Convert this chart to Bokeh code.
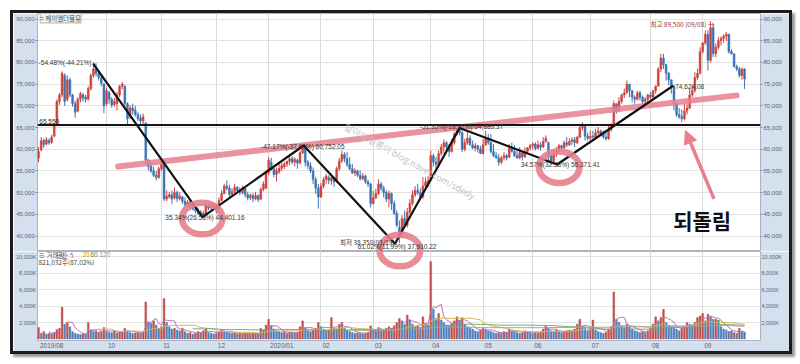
import numpy as np
import pandas as pd
from bokeh.plotting import figure
from bokeh.layouts import column
from bokeh.models import (Range1d, FixedTicker, NumeralTickFormatter, Span, Label,
                          Arrow, NormalHead, LinearAxis)
from bokeh.embed import file_html
from bokeh.resources import INLINE

# ---------------- data (prices in thousand won, volume in thousand shares) ----------------
month_idx = [0, 26, 47, 68, 88, 108, 128, 150, 170, 189, 211, 234, 254]
month_lbl = ["2019/08", "10", "11", "12", "2020/01", "02", "03", "04", "05", "06", "07", "08", "09"]

open_k = [
    58.0, 59.8, 62.0, 61.2, 62.0, 61.6, 63.0, 65.5, 71.0, 72.5,
    77.0, 71.5, 76.0, 72.5, 70.5, 68.8, 71.5, 72.5, 72.0, 71.5,
    74.0, 77.0, 78.5, 77.5, 76.5, 75.0, 70.5, 73.0, 71.5, 70.3,
    70.5, 72.5, 74.5, 74.5, 70.5, 67.5, 69.5, 69.0, 68.0, 67.2,
    66.5, 66.0, 57.5, 56.0, 55.0, 54.0, 53.5, 55.5, 56.5, 48.5,
    49.0, 49.5, 48.8, 50.0, 48.6, 49.0, 48.0, 47.3, 47.8, 46.8,
    46.2, 45.8, 45.2, 45.3, 44.9, 47.0, 46.5, 47.2, 46.7, 46.2,
    48.2, 49.8, 51.5, 51.0, 49.6, 50.3, 51.2, 50.5, 50.0, 51.0,
    49.5, 48.8, 49.3, 48.6, 49.3, 48.5, 50.8, 51.0, 54.5, 57.0,
    55.5, 54.2, 54.8, 55.6, 56.0, 56.6, 57.2, 57.8, 57.0, 57.5,
    56.8, 59.2, 60.0, 57.0, 56.2, 55.0, 53.0, 51.0, 49.0, 51.5,
    53.0, 53.5, 52.8, 53.3, 52.5, 55.5, 57.3, 58.8, 57.8, 56.5,
    55.5, 54.5, 55.0, 54.0, 53.2, 53.8, 52.5, 52.0, 47.5, 48.8,
    49.8, 52.0, 51.0, 50.0, 48.5, 49.8, 47.5, 45.2, 42.0, 40.5,
    44.0, 42.5, 45.5, 47.5, 49.5, 50.5, 50.0, 49.0, 51.5, 51.8,
    53.0, 58.5, 57.0, 56.5, 59.0, 60.5, 61.5, 60.5, 59.5, 61.5,
    63.5, 64.5, 63.8, 60.0, 61.5, 62.5, 61.0, 60.3, 60.8, 60.0,
    59.0, 61.0, 62.5, 61.5, 59.5, 58.5, 58.0, 57.0, 58.0, 58.5,
    58.2, 60.2, 59.5, 58.5, 58.0, 59.2, 58.2, 59.5, 60.3, 60.8,
    61.2, 60.2, 61.0, 60.5, 61.8, 61.5, 58.5, 57.2, 59.0, 59.5,
    60.8, 60.3, 61.5, 61.0, 61.8, 62.2, 61.5, 62.8, 65.0, 65.3,
    63.0, 62.5, 63.0, 62.8, 63.8, 64.2, 63.5, 62.8, 62.4, 64.5,
    65.8, 70.5, 69.0, 71.0, 72.5, 73.0, 75.0, 73.5, 72.0, 71.5,
    73.0, 72.0, 71.0, 71.5, 72.5, 72.0, 73.5, 74.5, 78.5, 81.0,
    79.5, 77.5, 76.0, 74.6, 70.5, 68.0, 67.5, 67.0, 68.8, 69.5,
    72.5, 73.5, 76.5, 77.5, 82.5, 84.5, 86.5, 80.5, 88.0, 82.0,
    83.5, 85.0, 85.5, 86.0, 86.5, 82.5, 82.0, 79.0, 78.5, 77.0, 78.5]

high_k = [
    60.5, 62.8, 62.5, 62.8, 62.5, 63.3, 65.6, 71.5, 73.0, 77.9,
    77.5, 77.0, 76.5, 72.8, 71.2, 72.0, 73.2, 73.0, 72.5, 74.5,
    77.5, 80.0, 79.8, 78.2, 76.8, 75.3, 74.2, 73.5, 72.0, 71.8,
    73.2, 74.8, 75.5, 74.8, 70.8, 70.2, 70.5, 70.0, 68.5, 68.0,
    68.2, 66.3, 57.8, 56.8, 56.0, 55.0, 56.0, 57.4, 57.3, 50.5,
    50.1, 50.5, 51.2, 50.5, 50.1, 49.3, 48.9, 48.3, 48.5, 48.0,
    47.2, 46.6, 46.0, 45.8, 48.2, 47.6, 47.8, 47.5, 47.4, 48.9,
    50.5, 52.0, 52.8, 51.8, 51.0, 52.0, 51.5, 51.2, 51.6, 51.2,
    50.2, 49.8, 49.9, 50.2, 49.6, 51.2, 52.6, 55.1, 58.2, 58.0,
    56.0, 55.8, 56.6, 56.8, 57.0, 57.4, 58.2, 58.4, 58.2, 57.8,
    59.7, 60.8, 60.3, 57.5, 57.0, 55.8, 53.6, 52.0, 52.2, 53.6,
    54.3, 54.0, 53.8, 53.6, 56.0, 58.0, 59.7, 59.3, 59.4, 58.2,
    56.6, 55.6, 55.3, 55.1, 54.6, 54.2, 53.0, 52.2, 50.4, 50.9,
    53.1, 52.5, 51.6, 50.5, 50.5, 50.0, 48.2, 45.9, 43.6, 44.8,
    45.9, 46.5, 48.5, 50.5, 51.5, 52.0, 51.0, 53.6, 53.5, 53.8,
    59.7, 59.0, 58.2, 59.7, 61.2, 62.3, 61.9, 61.2, 62.4, 64.0,
    64.9, 65.2, 64.3, 62.4, 64.0, 63.2, 62.0, 61.4, 61.0, 60.8,
    62.3, 64.3, 63.5, 63.5, 61.2, 59.3, 58.9, 58.5, 59.3, 58.9,
    61.2, 61.5, 61.0, 59.7, 60.5, 59.7, 60.5, 60.5, 61.2, 61.6,
    61.6, 62.0, 61.6, 62.8, 63.2, 61.8, 59.0, 60.0, 60.5, 61.2,
    61.0, 62.0, 62.8, 62.5, 62.8, 62.8, 63.0, 65.85, 66.2, 65.5,
    63.8, 64.3, 64.3, 64.7, 65.1, 64.5, 64.3, 63.9, 65.85, 66.0,
    71.2, 70.5, 72.0, 72.8, 74.0, 75.8, 75.0, 73.5, 72.4, 73.5,
    73.5, 72.4, 72.0, 72.8, 73.2, 73.5, 74.7, 78.9, 82.0, 82.0,
    79.6, 77.8, 76.0, 74.7, 70.5, 69.5, 69.2, 70.5, 70.5, 73.9,
    74.7, 77.8, 78.5, 83.5, 84.7, 87.4, 87.4, 89.5, 88.5, 84.3,
    85.8, 86.0, 86.5, 87.0, 86.6, 83.0, 82.0, 79.5, 79.0, 78.8, 78.6]

low_k = [
    57.0, 59.5, 60.3, 60.8, 61.0, 61.2, 62.8, 65.3, 70.2, 72.0,
    70.0, 71.0, 72.0, 69.8, 67.3, 68.5, 70.8, 71.0, 70.8, 71.2,
    73.5, 76.5, 76.8, 75.8, 74.5, 68.3, 70.0, 70.5, 69.5, 69.8,
    68.9, 72.0, 73.8, 69.8, 65.8, 67.0, 68.0, 67.5, 66.5, 65.8,
    65.5, 56.6, 55.1, 54.5, 53.6, 52.8, 53.2, 55.0, 48.0, 48.0,
    48.6, 47.4, 48.4, 47.8, 48.2, 47.4, 46.6, 46.5, 45.9, 45.9,
    45.2, 44.8, 44.6, 44.4, 44.8, 46.0, 45.9, 46.2, 45.2, 46.0,
    48.0, 49.6, 50.5, 49.0, 49.2, 49.9, 50.0, 49.4, 49.6, 48.9,
    48.2, 48.3, 47.8, 48.2, 47.8, 48.3, 50.3, 50.8, 54.0, 55.0,
    53.5, 52.5, 54.3, 55.0, 55.4, 55.9, 56.3, 56.5, 56.0, 55.5,
    56.5, 58.9, 56.0, 55.4, 54.5, 52.0, 49.7, 46.3, 48.8, 51.0,
    52.0, 52.0, 51.8, 51.3, 52.2, 55.0, 56.8, 57.0, 55.9, 55.1,
    54.3, 53.8, 53.6, 52.8, 52.8, 52.0, 51.3, 46.6, 47.2, 48.5,
    49.5, 50.4, 48.9, 47.8, 46.6, 46.0, 44.8, 42.0, 38.35, 39.5,
    41.8, 42.0, 45.0, 47.0, 49.0, 49.5, 48.2, 48.5, 51.0, 51.2,
    52.8, 56.0, 55.5, 56.2, 58.5, 59.0, 59.7, 58.2, 59.2, 61.0,
    63.0, 63.2, 59.3, 59.5, 61.0, 60.8, 60.0, 59.5, 59.2, 58.9,
    58.8, 60.8, 61.0, 59.0, 58.2, 57.8, 56.2, 56.6, 57.4, 57.4,
    57.9, 59.2, 58.2, 57.8, 57.7, 57.4, 58.0, 58.9, 59.7, 60.0,
    59.7, 60.0, 59.7, 60.3, 61.5, 57.0, 56.37, 57.0, 58.2, 59.2,
    59.7, 60.0, 60.5, 60.7, 61.0, 60.5, 61.2, 62.5, 64.3, 62.0,
    62.0, 62.0, 62.4, 62.8, 63.2, 63.0, 62.4, 62.0, 62.2, 64.0,
    65.5, 68.2, 68.5, 70.5, 71.8, 72.8, 72.0, 70.8, 70.5, 71.2,
    71.2, 70.1, 70.1, 70.8, 71.5, 71.6, 72.8, 74.5, 77.8, 78.5,
    75.8, 74.7, 72.8, 68.9, 67.4, 67.0, 66.2, 66.6, 68.0, 69.2,
    72.0, 73.0, 76.0, 77.2, 82.0, 84.0, 78.1, 80.0, 81.2, 81.2,
    83.0, 83.9, 84.5, 85.0, 82.0, 81.8, 78.9, 78.0, 76.5, 76.0, 73.9]

close_k = [
    59.5, 62.0, 61.0, 62.2, 61.5, 62.8, 65.3, 71.0, 72.5, 77.5,
    71.0, 76.0, 72.5, 70.5, 68.5, 71.5, 72.8, 71.8, 71.5, 74.0,
    77.0, 78.5, 77.5, 76.5, 75.2, 70.0, 73.5, 71.5, 70.2, 71.0,
    72.5, 74.5, 75.0, 70.5, 67.0, 69.5, 68.8, 68.0, 67.0, 66.5,
    67.5, 57.5, 56.0, 55.0, 54.0, 53.5, 55.5, 57.0, 48.5, 49.2,
    49.5, 48.5, 50.0, 48.6, 49.2, 48.0, 47.2, 47.8, 46.8, 46.2,
    45.8, 45.2, 45.5, 44.8, 47.0, 46.5, 47.3, 46.7, 46.0, 48.2,
    49.8, 51.5, 51.0, 49.5, 50.3, 51.2, 50.5, 50.0, 51.0, 49.5,
    48.8, 49.4, 48.6, 49.3, 48.4, 50.8, 52.0, 54.5, 57.5, 55.5,
    54.2, 55.0, 55.6, 56.2, 56.6, 57.2, 57.8, 57.0, 57.6, 56.8,
    59.2, 60.3, 57.0, 56.2, 55.0, 53.0, 51.0, 49.0, 51.5, 53.0,
    53.8, 52.8, 53.3, 52.5, 55.5, 57.3, 58.8, 57.8, 56.5, 55.5,
    54.5, 55.0, 54.0, 53.2, 53.8, 52.5, 52.0, 47.5, 48.8, 49.8,
    52.0, 51.0, 50.0, 48.5, 49.8, 47.5, 45.2, 42.5, 40.5, 44.0,
    42.5, 45.5, 47.5, 49.5, 50.5, 50.0, 49.0, 51.5, 52.5, 52.8,
    58.5, 57.0, 56.5, 59.0, 60.5, 61.5, 60.5, 59.5, 61.5, 63.5,
    64.5, 63.8, 60.0, 61.5, 62.5, 61.0, 60.3, 60.8, 60.0, 59.0,
    61.0, 62.5, 61.5, 59.5, 58.5, 58.0, 57.0, 58.0, 58.5, 58.0,
    60.2, 59.5, 58.5, 58.0, 59.2, 58.2, 59.5, 60.3, 60.8, 61.2,
    60.2, 61.0, 60.5, 61.8, 62.5, 58.5, 57.2, 59.0, 59.5, 60.8,
    60.3, 61.5, 61.0, 61.8, 62.2, 61.5, 62.8, 65.0, 65.3, 63.0,
    62.5, 63.0, 62.8, 63.8, 64.2, 63.5, 62.8, 62.4, 64.5, 65.5,
    70.5, 69.0, 71.0, 72.5, 73.0, 75.0, 73.5, 72.0, 71.5, 73.0,
    72.0, 71.0, 71.5, 72.5, 72.0, 73.5, 74.5, 78.5, 81.0, 79.5,
    77.5, 76.0, 74.6, 70.5, 68.0, 67.5, 67.0, 68.8, 69.5, 72.5,
    73.5, 76.5, 77.5, 82.5, 84.5, 86.5, 80.5, 88.0, 82.0, 83.5,
    85.0, 85.5, 86.0, 86.5, 82.5, 82.0, 79.0, 78.5, 77.0, 78.5, 76.2]

volume_k = [
    1400, 700, 900, 600, 700, 650, 800, 1150, 1300, 3850,
    1750, 1950, 1500, 900, 700, 600, 550, 650, 600, 2000,
    1100, 900, 1000, 850, 900, 1400, 900, 800, 750, 1000,
    700, 850, 900, 1300, 1000, 800, 700, 750, 800, 700,
    850, 4500, 2100, 1900, 2200, 1700, 1300, 1500, 4900, 2000,
    1500, 1200, 1300, 1100, 1000, 1300, 900, 700, 800, 600,
    700, 900, 800, 1000, 1200, 800, 700, 600, 700, 900,
    1100, 1000, 900, 800, 700, 750, 650, 700, 600, 650,
    700, 600, 650, 700, 600, 1300, 1100, 1700, 2400, 1600,
    1200, 1000, 900, 800, 900, 700, 800, 750, 700, 800,
    1500, 2200, 1400, 1000, 900, 1100, 1300, 2000, 1500, 1200,
    1000, 1100, 2600, 1300, 1200, 1800, 2000, 1300, 1100, 900,
    800, 700, 750, 700, 650, 700, 800, 1600, 1200, 1000,
    1400, 1000, 1100, 1300, 1500, 1300, 1600, 2000, 2500, 2200,
    1800, 2900, 2300, 1800, 1500, 1600, 1400, 2700, 1900, 1700,
    9400, 3600, 2500, 3100, 2300, 2000, 1700, 1600, 1900, 2200,
    2700, 2300, 2600, 1800, 1500, 1400, 1200, 1000, 900, 1100,
    1300, 1200, 1000, 900, 800, 700, 800, 700, 900, 800,
    1200, 1000, 900, 800, 700, 800, 1000, 900, 800, 700,
    800, 700, 900, 1200, 1600, 1300, 1000, 900, 1100, 900,
    800, 900, 1000, 1100, 1000, 1200, 1800, 2400, 1500, 1300,
    1000, 1200, 2300, 1100, 900, 800, 700, 800, 1200, 1500,
    5700, 2400, 2000, 1600, 1400, 1800, 1500, 1200, 1000, 900,
    800, 900, 800, 1000, 1300, 1800, 2700, 2200, 2600, 3600,
    2000, 1700, 1500, 1400, 1200, 1000, 1300, 1500, 2000, 1800,
    1700, 2000, 2600, 2800, 3100, 2200, 3000, 2700, 2400, 2400,
    2300, 1500, 1200, 1100, 900, 1000, 800, 700, 1300, 900, 821.032]

# pivot points of the drawn zig-zag (trading-day index, price)
zig_x = [20.9, 62.7, 101.4, 136.3, 161.0, 198.3, 242.7]
zig_y = [79700, 44350, 60850, 38200, 64900, 56470, 74620]
# rising pink trend line
trend_x = [30.4, 267.0]
trend_y = [56000, 72400]
support_level = 65550
# pink rings (index, price)
ring_x = [62.6, 138.2, 199.1]
ring_y = [44030, 36660, 55850]

N = len(close_k)
assert all(len(a) == N for a in (open_k, high_k, low_k, volume_k))

idx = np.arange(N)
o = np.array(open_k) * 1000
h = np.array(high_k) * 1000
l = np.array(low_k) * 1000
c = np.array(close_k) * 1000
vol = np.array(volume_k, dtype=float)

# ---------------- styling constants ----------------
UP, DN = "#d0423c", "#3b74b4"
VUP, VDN = "#c0504d", "#4f81bd"
PINK = "#e6808d"
AXBG = "#d5e0ee"
GRID = "#e3e3e3"
NUMF = "Liberation Sans"
KRF = "Noto Sans CJK KR"

LB, RB = 22, 29
FW = 723                   # frame width
H1 = 238                   # price frame height
H2F, XAX = 89, 10          # volume frame height, date-axis strip
X0, X1 = -0.4, 276.1
PPD = FW / (X1 - X0)
FRAME_L = 13 + LB          # page x of frame left edge

P_LO, P_HI = 36430, 91270
PPP = (P_HI - P_LO) / H1
V_LO, V_HI = -180, 10610

def px_idx(px):
    return X0 + (px - FRAME_L) / PPD

def lab(fig, x, y, text, size="6.5px", color="#333333", align="left", baseline="middle",
        font=NUMF, **kw):
    fig.add_layout(Label(x=x, y=y, text=text, text_font_size=size, text_color=color,
                         text_align=align, text_baseline=baseline, text_font=font, **kw))

def style_yaxis(ax, ticks, fmt=None, overrides=None, size="6px", tick=2):
    ax.ticker = FixedTicker(ticks=ticks)
    if fmt is not None:
        ax.formatter = fmt
    if overrides is not None:
        ax.major_label_overrides = overrides
    ax.axis_line_color = None
    ax.major_tick_line_color = "#7a8696"
    ax.major_tick_in = 0
    ax.major_tick_out = tick
    ax.minor_tick_line_color = None
    ax.minor_tick_in = 0
    ax.minor_tick_out = 0
    ax.major_label_text_font_size = size
    ax.major_label_text_font = NUMF
    ax.major_label_text_color = "#5a6472"
    ax.major_label_standoff = 1

# ---------------- price figure ----------------
p1 = figure(frame_width=FW, frame_height=H1, x_range=Range1d(X0, X1),
            y_range=Range1d(P_LO, P_HI),
            output_backend="svg", toolbar_location=None, x_axis_location=None,
            min_border_left=LB, min_border_right=RB, min_border_top=0, min_border_bottom=0,
            background_fill_color="white", border_fill_color=AXBG,
            outline_line_color="#aab4c2")
price_ticks = list(range(40000, 90001, 5000))
style_yaxis(p1.yaxis[0], price_ticks, NumeralTickFormatter(format="0,0"))
rax = LinearAxis()
style_yaxis(rax, price_ticks, NumeralTickFormatter(format="0,0"))
p1.add_layout(rax, "right")
p1.xgrid.ticker = FixedTicker(ticks=month_idx[1:])
p1.xgrid.grid_line_color = "#dadada"
p1.ygrid.ticker = FixedTicker(ticks=price_ticks)
p1.ygrid.grid_line_color = GRID

up = c >= o
col = np.where(up, UP, DN)
p1.segment(idx, l, idx, h, color=col, line_width=1)
body_top = np.maximum(o, c)
body_bot = np.minimum(o, c)
body_bot = np.where(body_top - body_bot < 150, body_top - 150, body_bot)
p1.vbar(x=idx, top=body_top, bottom=body_bot, width=0.72, fill_color=col, line_color=col,
        line_width=0.5)

p1.add_layout(Span(location=support_level, dimension="width", line_color="#151515",
                   line_width=2))
p1.line(trend_x, trend_y, line_color=PINK, line_width=6, line_alpha=0.85, line_cap="round")
p1.line(zig_x, zig_y, line_color="#111111", line_width=2.2)
p1.ellipse(ring_x, ring_y, width=15.5, height=7300, fill_alpha=0, line_color=PINK,
           line_width=6.5, line_alpha=0.9)
p1.add_layout(Arrow(end=NormalHead(size=13, fill_color=PINK, line_color=PINK),
                    x_start=258.3, y_start=48570, x_end=247.4, y_end=64310,
                    line_color=PINK, line_width=3.5))

# texts in price panel
lab(p1, 142, 57200, "달이의 일롱이 blog.naver.com/sdedy", size="9px", color="#c4c4c4",
    align="center", font=KRF, angle=-0.5)
lab(p1, 0.6, 90250, "= 케이엠더블유", size="6.5px", color="#444444", font=KRF,
    background_fill_color="#f2f2f2", border_line_color="#b0b0b0")
lab(p1, 0.3, 66270, "65,550", size="6.5px", color="#222222")
lab(p1, 20.2, 80000, "-54.48%(-44.21%)", align="right")
lab(p1, 48.5, 44260, "35.34%(26.58%) 44,401.16")
lab(p1, 85.1, 60620, "-47.17%(-37.60%) 60,752.05")
lab(p1, 115.3, 38620, "최저 38,350(03/19)", font=KRF)
lab(p1, 122.1, 37580, "61.02%(11.99%) 37,910.22")
lab(p1, 145.8, 65300, "-51.35%(-18.97%) 64,883.37")
lab(p1, 184.4, 56500, "34.57%(32.38%) 56,371.41")
lab(p1, 243.5, 74450, "74,624.08")
lab(p1, 258.5, 88960, "최고 89,500 (09/08) →", color="#a03030", align="right", font=KRF)
lab(p1, 253.8, 43800, "되돌림", size="21px", color="#111111", align="center", font=KRF,
    text_font_style="bold")

# axis-strip boxes
last_close = c[-1]
lab(p1, px_idx(13), last_close, f"{last_close:,.0f}", size="6.5px", color="white",
    background_fill_color="#1c5bb5")
lab(p1, px_idx(15), last_close - 1520, "-0.91%", size="6px", color="#1c5bb5")
lab(p1, px_idx(760), last_close, f"{last_close:,.0f}", size="6.5px", color="white",
    background_fill_color="#1c5bb5")
lab(p1, px_idx(762), last_close - 1520, "-0.91%", size="6px", color="#1c5bb5")
lab(p1, px_idx(760), 90400, "LC:-96.78", size="5.5px", color="#c03030")
lab(p1, px_idx(759), 89100, "HC:-14.86", size="5.5px", color="#1c5bb5")

# ---------------- volume figure ----------------
p2 = figure(frame_width=FW, frame_height=H2F, x_range=p1.x_range, y_range=Range1d(V_LO, V_HI),
            output_backend="svg", toolbar_location=None,
            min_border_left=LB, min_border_right=RB, min_border_top=0, min_border_bottom=XAX,
            background_fill_color="white", border_fill_color=AXBG,
            outline_line_color="#aab4c2")
p2.extra_y_ranges = {"price": Range1d(P_LO - H2F * PPP, P_LO)}
vol_ticks = [2000, 4000, 6000, 8000, 10000]
vol_over = {v: f"{v:,}K" for v in vol_ticks}
style_yaxis(p2.yaxis[0], vol_ticks, overrides=vol_over, size="5.5px", tick=0)
rax2 = LinearAxis()
style_yaxis(rax2, vol_ticks, overrides=vol_over, size="5.5px", tick=0)
p2.add_layout(rax2, "right")

def lbl_w(s):
    return sum(1.8 if ch == "/" else 3.6 for ch in s)

tick_pos = [round(m + (lbl_w(s) / 2 + 1.5) / PPD, 3) for m, s in zip(month_idx, month_lbl)]
xa = p2.xaxis[0]
xa.ticker = FixedTicker(ticks=tick_pos)
xa.major_label_overrides = {t: s for t, s in zip(tick_pos, month_lbl)}
xa.axis_line_color = None
xa.major_tick_line_color = None
xa.minor_tick_line_color = None
xa.major_tick_in = 0
xa.major_tick_out = 0
xa.minor_tick_in = 0
xa.minor_tick_out = 0
xa.major_label_text_font_size = "6.5px"
xa.major_label_text_font = NUMF
xa.major_label_text_color = "#5a6472"
xa.major_label_standoff = 1
p2.xgrid.ticker = FixedTicker(ticks=month_idx[1:])
p2.xgrid.grid_line_color = "#dadada"
p2.ygrid.ticker = FixedTicker(ticks=vol_ticks)
p2.ygrid.grid_line_color = GRID

prev = np.concatenate([[vol[0]], vol[:-1]])
vcol = np.where(vol >= prev, VUP, VDN)
p2.vbar(x=idx, top=vol, bottom=0, width=0.7, fill_color=vcol, line_color=vcol, line_width=0.4)

s = pd.Series(vol)
ma_cols = {5: "#c070b4", 20: "#d8b84a", 60: "#72aa72", 120: "#9aa0bc"}
for n, cc in ma_cols.items():
    p2.line(idx, s.rolling(n).mean().values, line_color=cc, line_width=1)

p2.ellipse([ring_x[1]], [ring_y[1]], width=15.5, height=7300, fill_alpha=0, line_color=PINK,
           line_width=6.5, line_alpha=0.9, y_range_name="price")

lab(p2, px_idx(36), 10240, "≡ 거래량", size="6.5px", color="#555555", font=KRF)
lab(p2, px_idx(54), 10240, "단순 5", size="6.5px", color="#a04a9c", font=KRF)
lab(p2, px_idx(80), 10240, "20", size="6.5px", color="#d0a000")
lab(p2, px_idx(88), 10240, "60", size="6.5px", color="#3a9a3a")
lab(p2, px_idx(97), 10240, "120", size="6.5px", color="#9a9a9a")
lab(p2, px_idx(36), 9390, f"{vol[-1] * 1000:,.0f}주(87.02%)", size="6.5px", color="#444444",
    font=KRF)

lab(p2, px_idx(13), 970, f"{vol[-1] * 1000:,.0f}", size="6px", color="white",
    background_fill_color="#1c5bb5")
lab(p2, px_idx(15), 250, "87.02%", size="6px", color="#1c5bb5")
lab(p2, px_idx(760), 970, f"{vol[-1] * 1000:,.0f}", size="6px", color="white",
    background_fill_color="#1c5bb5")
lab(p2, px_idx(762), 250, "87.02%", size="6px", color="#1c5bb5")
lab(p2, px_idx(764), -800, "09/23", size="6.5px", color="#5a6472")

layout = column(p1, p2, spacing=0, margin=(10, 0, 0, 10),
                styles={"border": "3px solid #1b1b1b", "box-shadow": "3px 3px 2px #9a9a9a"})

open("out.html", "w").write(file_html(layout, INLINE))
